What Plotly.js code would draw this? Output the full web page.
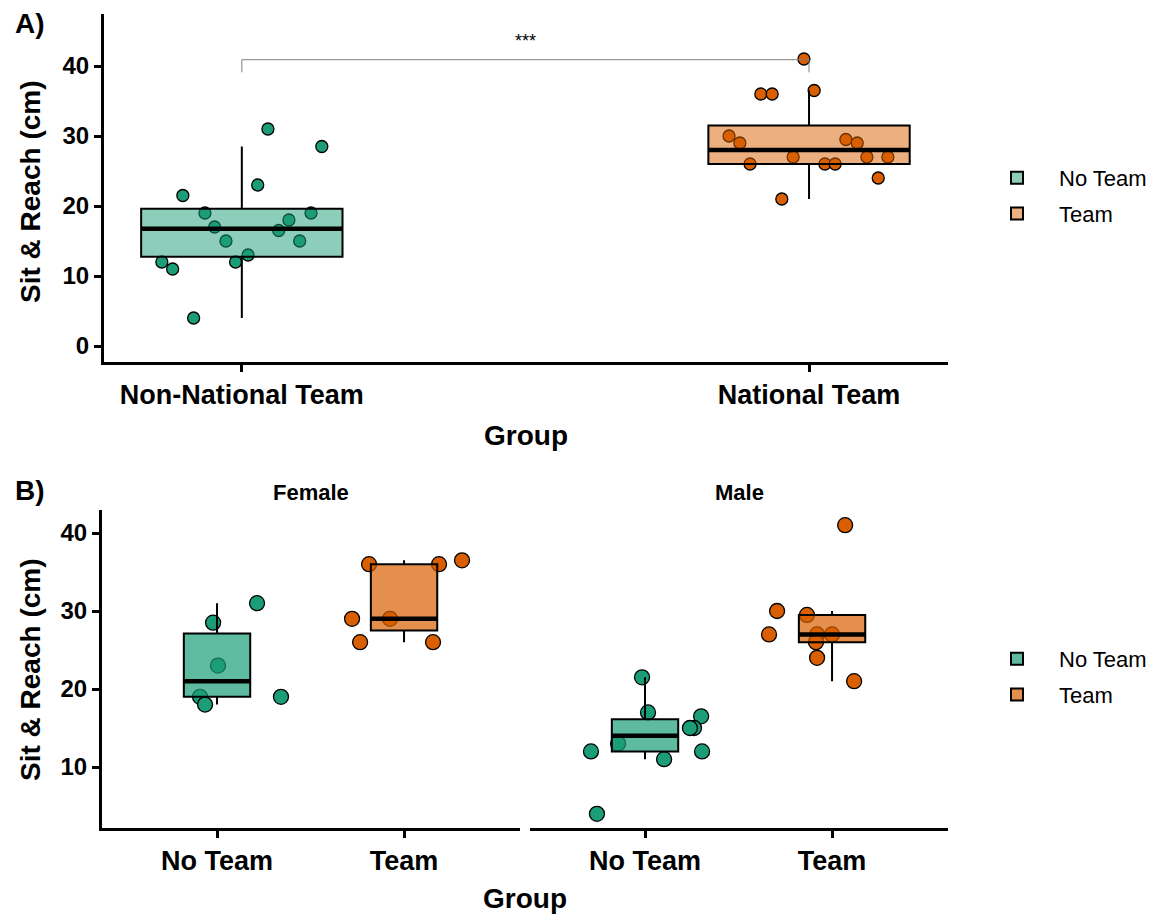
<!DOCTYPE html>
<html><head><meta charset="utf-8">
<script src="https://cdn.plot.ly/plotly-3.0.1.min.js"></script>
<style>html,body{margin:0;padding:0;background:#fff}</style>
</head><body><div id="chart" style="width:1163px;height:916px"></div>
<script>
// ---------- data ----------
const groupsA = ['Non-National Team', 'National Team'];
const teamLevels = ['No Team', 'Team'];
const facets = ['Female', 'Male'];

// Panel A values (cm) and horizontal jitter (category units)
const nonNational = [31, 28.5, 23, 21.5, 19, 19, 18, 17, 16.5, 15, 15, 13, 12, 12, 11, 4];
const nonNationalJitter = [0.046, 0.141, 0.028, -0.104, -0.065, 0.122, 0.083, -0.048, 0.065, -0.028, 0.102, 0.011, -0.011, -0.141, -0.122, -0.085];
const national = [41, 36, 36, 36.5, 30, 29, 29.5, 29, 27, 27, 27, 26, 26, 26, 24, 21];
const nationalJitter = [-0.009, -0.085, -0.065, 0.009, -0.141, -0.122, 0.065, 0.085, -0.028, 0.102, 0.139, -0.104, 0.028, 0.046, 0.122, -0.048];

// Panel B values by sex
const femaleNoTeam = [31, 28.5, 23, 19, 18, 19];
const femaleNoTeamJitter = [0.214, -0.021, 0.005, -0.091, -0.064, 0.342];
const femaleTeam = [36, 36, 36.5, 29, 29, 26, 26];
const femaleTeamJitter = [-0.187, 0.187, 0.31, -0.278, -0.075, -0.235, 0.155];
const maleNoTeam = [21.5, 17, 16.5, 15, 15, 12, 12, 13, 11, 4];
const maleNoTeamJitter = [-0.016, 0.016, 0.30, 0.262, 0.24, -0.289, 0.305, -0.144, 0.102, -0.257];
const maleTeam = [41, 30, 29.5, 27, 27, 27, 26, 24, 21];
const maleTeamJitter = [0.07, -0.294, -0.134, -0.337, -0.08, 0.0, -0.086, -0.08, 0.118];

// significance bracket
const sigLabel = '***';
const sigY = 40.9;
const sigTip = 39.1;

// ---------- helpers ----------
const FONT = 'Liberation Sans, Arial, sans-serif';
const GREEN = '#1B9E77', ORANGE = '#D95F02';
const W = 1163, H = 916;
const px = v => v / W;
const py = v => 1 - v / H;
const BOXW = 0.355;

function q7(s, p) { const h = (s.length - 1) * p, lo = Math.floor(h), hi = Math.ceil(h); return s[lo] + (h - lo) * (s[hi] - s[lo]); }
function stats(vals) {
  const s = [...vals].sort((a, b) => a - b);
  const q1 = q7(s, 0.25), med = q7(s, 0.5), q3 = q7(s, 0.75), iqr = q3 - q1;
  const lf = Math.min(...s.filter(v => v >= q1 - 1.5 * iqr));
  const uf = Math.max(...s.filter(v => v <= q3 + 1.5 * iqr));
  return { q1, med, q3, lf, uf };
}
function rgba(hex, a) { const n = parseInt(hex.slice(1), 16); return `rgba(${n >> 16},${(n >> 8) & 255},${n & 255},${a})`; }

const traces = [];
function addGroup(vals, jit, pos, color, alpha, msize, xa, ya, yov, name, legend, showlegend) {
  const st = stats(vals);
  traces.push({ type: 'scatter', mode: 'markers', x: vals.map((v, i) => pos + jit[i]), y: vals,
    marker: { size: msize, color: color, line: { color: '#000', width: 1.3 } },
    xaxis: xa, yaxis: ya, showlegend: false, hoverinfo: 'y' });
  traces.push({ type: 'box', x: [pos], q1: [st.q1], median: [st.med], q3: [st.q3],
    lowerfence: [st.lf], upperfence: [st.uf], width: BOXW, boxpoints: false, whiskerwidth: 0,
    fillcolor: rgba(color, alpha), line: { color: '#000', width: 2 },
    xaxis: xa, yaxis: yov, name: name, legend: legend, legendgroup: legend + name, showlegend: showlegend, hoverinfo: 'skip' });
  traces.push({ type: 'scatter', mode: 'lines', x: [pos - BOXW / 2, pos + BOXW / 2], y: [st.med, st.med],
    line: { color: '#000', width: 4.5 }, xaxis: xa, yaxis: yov, showlegend: false, hoverinfo: 'skip' });
}

// Panel A
addGroup(nonNational, nonNationalJitter, 1, GREEN, 0.5, 12, 'x', 'y', 'y4', teamLevels[0], 'legend', true);
addGroup(national, nationalJitter, 2, ORANGE, 0.5, 12, 'x', 'y', 'y4', teamLevels[1], 'legend', true);
traces.push({ type: 'scatter', mode: 'lines', x: [1, 1, 2, 2], y: [sigTip, sigY, sigY, sigTip],
  line: { color: '#808080', width: 1 }, xaxis: 'x', yaxis: 'y', showlegend: false, hoverinfo: 'skip' });
// Panel B
addGroup(femaleNoTeam, femaleNoTeamJitter, 1, GREEN, 0.7, 15, 'x2', 'y2', 'y5', teamLevels[0], 'legend2', true);
addGroup(femaleTeam, femaleTeamJitter, 2, ORANGE, 0.7, 15, 'x2', 'y2', 'y5', teamLevels[1], 'legend2', true);
addGroup(maleNoTeam, maleNoTeamJitter, 1, GREEN, 0.7, 15, 'x3', 'y3', 'y6', teamLevels[0], 'legend2', false);
addGroup(maleTeam, maleTeamJitter, 2, ORANGE, 0.7, 15, 'x3', 'y3', 'y6', teamLevels[1], 'legend2', false);

// ---------- layout ----------
const ax = { showline: true, linecolor: '#000', linewidth: 3, ticks: 'outside', ticklen: 7, tickwidth: 3,
  tickcolor: '#000', showgrid: false, zeroline: false, fixedrange: true };
const xtf = { family: FONT, size: 27, weight: 'bold', color: '#000' };
const ytf = { family: FONT, size: 24, weight: 'bold', color: '#000' };
const rangeA = [-2.286, 47.43], rangeB = [2.18, 42.95], rangeBx = [0.385, 2.62];
const legFont = { family: FONT, size: 22, color: '#000' };

const layout = {
  width: W, height: H, margin: { l: 0, r: 0, t: 0, b: 0 },
  paper_bgcolor: '#fff', plot_bgcolor: '#fff', font: { family: FONT, color: '#000' },
  xaxis: { ...ax, domain: [px(104), px(948)], anchor: 'y', range: [0.757, 2.245], tickmode: 'array', tickvals: [1, 2], ticktext: groupsA, tickfont: xtf },
  yaxis: { ...ax, domain: [py(362), py(14)], anchor: 'x', range: rangeA, tickmode: 'array', tickvals: [0, 10, 20, 30, 40], tickfont: ytf },
  yaxis4: { overlaying: 'y', anchor: 'x', range: rangeA, visible: false, fixedrange: true },
  xaxis2: { ...ax, domain: [px(102), px(520)], anchor: 'y2', range: rangeBx, tickmode: 'array', tickvals: [1, 2], ticktext: teamLevels, tickfont: xtf },
  yaxis2: { ...ax, domain: [py(828), py(510)], anchor: 'x2', range: rangeB, tickmode: 'array', tickvals: [10, 20, 30, 40], tickfont: ytf },
  yaxis5: { overlaying: 'y2', anchor: 'x2', range: rangeB, visible: false, fixedrange: true },
  xaxis3: { ...ax, domain: [px(530), px(948)], anchor: 'y3', range: rangeBx, tickmode: 'array', tickvals: [1, 2], ticktext: teamLevels, tickfont: xtf },
  yaxis3: { domain: [py(828), py(510)], anchor: 'x3', range: rangeB, showline: false, showticklabels: false, ticks: '', showgrid: false, zeroline: false, fixedrange: true },
  yaxis6: { overlaying: 'y3', anchor: 'x3', range: rangeB, visible: false, fixedrange: true },
  legend: { x: px(975), xanchor: 'left', y: py(196), yanchor: 'middle', font: legFont,
    bgcolor: 'rgba(0,0,0,0)', tracegroupgap: 4, itemwidth: 74, traceorder: 'grouped' },
  legend2: { x: px(975), xanchor: 'left', y: py(677), yanchor: 'middle', font: legFont,
    bgcolor: 'rgba(0,0,0,0)', tracegroupgap: 4, itemwidth: 74, traceorder: 'grouped' },
  showlegend: true,
  annotations: [
    { text: 'A)', xref: 'paper', yref: 'paper', x: px(13), y: py(24), xanchor: 'left', yanchor: 'middle', showarrow: false, font: { family: FONT, size: 28, weight: 'bold' } },
    { text: 'B)', xref: 'paper', yref: 'paper', x: px(13), y: py(491), xanchor: 'left', yanchor: 'middle', showarrow: false, font: { family: FONT, size: 28, weight: 'bold' } },
    { text: sigLabel, xref: 'x', yref: 'y', x: 1.5, y: sigY, yanchor: 'bottom', yshift: 7, showarrow: false, font: { family: FONT, size: 18 } },
    { text: facets[0], xref: 'x2 domain', yref: 'paper', x: 0.5, y: py(492), yanchor: 'middle', showarrow: false, font: { family: FONT, size: 22, weight: 'bold' } },
    { text: facets[1], xref: 'x3 domain', yref: 'paper', x: 0.5, y: py(492), yanchor: 'middle', showarrow: false, font: { family: FONT, size: 22, weight: 'bold' } },
    { text: 'Group', xref: 'paper', yref: 'paper', x: px(526), y: py(435), yanchor: 'middle', showarrow: false, font: { family: FONT, size: 28, weight: 'bold' } },
    { text: 'Group', xref: 'paper', yref: 'paper', x: px(525), y: py(898), yanchor: 'middle', showarrow: false, font: { family: FONT, size: 28, weight: 'bold' } },
    { text: 'Sit & Reach (cm)', xref: 'paper', yref: 'paper', x: px(30), y: py(192), textangle: -90, xanchor: 'center', yanchor: 'middle', showarrow: false, font: { family: FONT, size: 28, weight: 'bold' } },
    { text: 'Sit & Reach (cm)', xref: 'paper', yref: 'paper', x: px(30), y: py(670), textangle: -90, xanchor: 'center', yanchor: 'middle', showarrow: false, font: { family: FONT, size: 28, weight: 'bold' } }
  ]
};

Plotly.newPlot('chart', traces, layout, { displayModeBar: false, staticPlot: true });
</script></body></html>
